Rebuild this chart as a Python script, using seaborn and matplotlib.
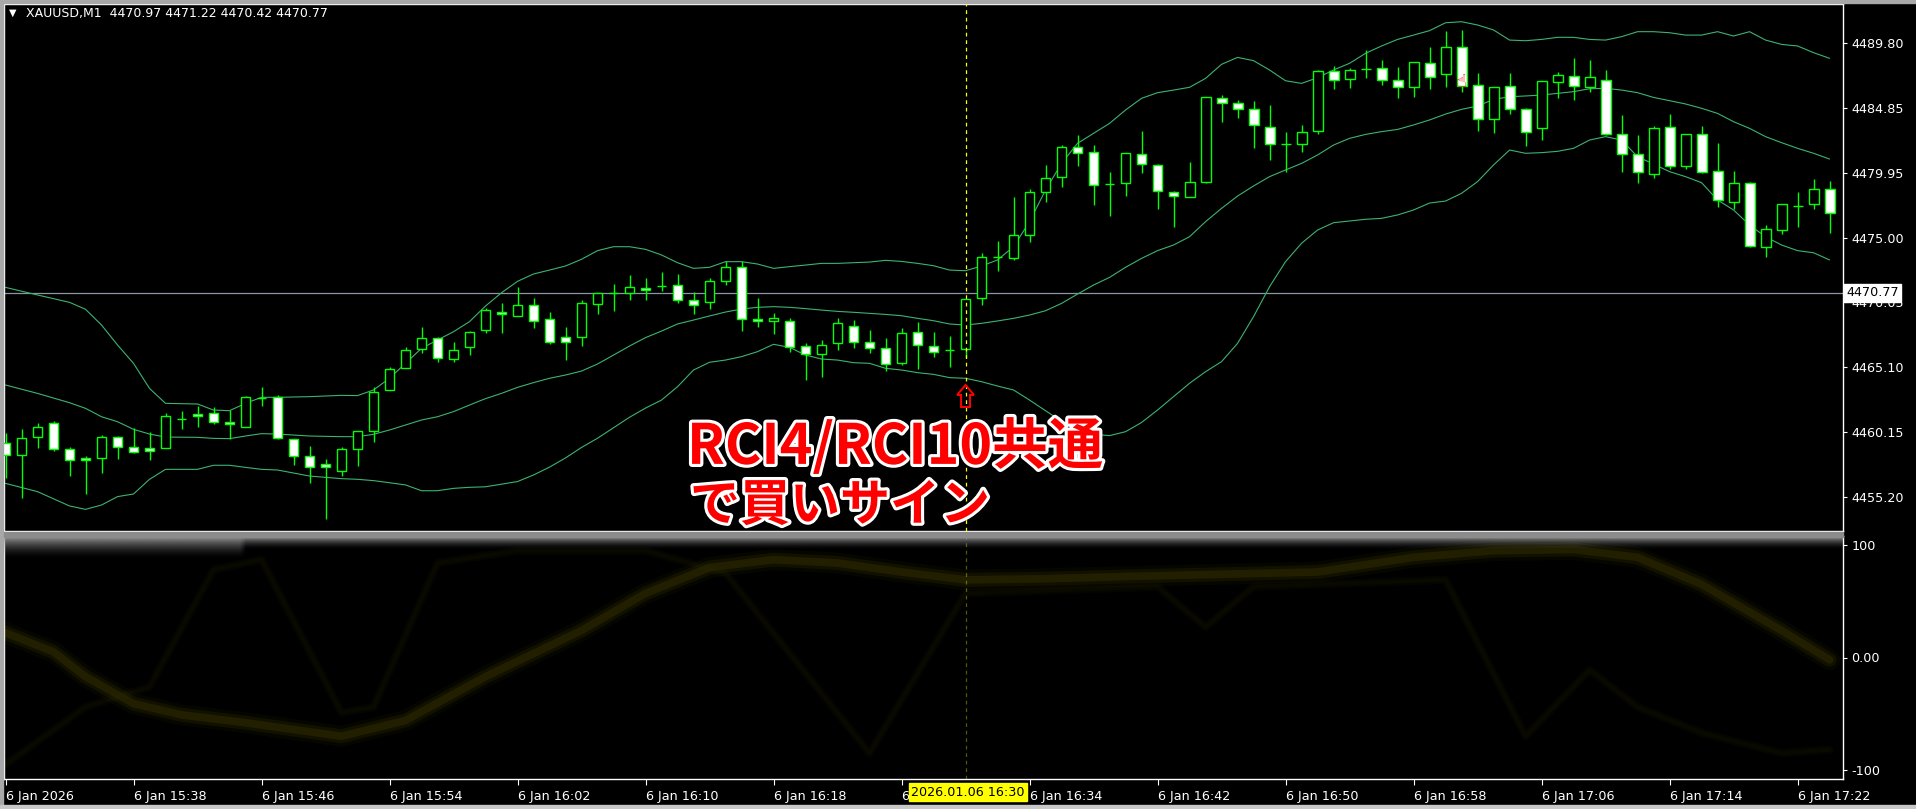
import numpy as np
import pandas as pd
import matplotlib
matplotlib.use("Agg")
import matplotlib.pyplot as plt
import matplotlib.patheffects as pe
from matplotlib.patches import Rectangle, FancyArrow
import seaborn as sns

# ---------------- data ----------------
open_p = [4459.31, 4458.40, 4459.77, 4460.84, 4458.85, 4458.17, 4458.17, 4459.77, 4459.06, 4458.93,
          4458.93, 4461.19, 4461.52, 4461.60, 4460.91, 4460.53, 4462.77, 4462.82, 4459.62, 4458.32,
          4457.71, 4457.18, 4458.85, 4460.23, 4463.35, 4465.03, 4466.48, 4467.32, 4465.71, 4466.68,
          4467.97, 4469.30, 4469.04, 4469.83, 4468.76, 4467.39, 4467.44, 4469.96, 4470.77, 4470.79,
          4471.18, 4471.33, 4471.35, 4470.21, 4470.11, 4471.66, 4472.73, 4468.76, 4468.61, 4468.61,
          4466.70, 4466.15, 4466.98, 4468.23, 4467.06, 4466.55, 4465.46, 4467.77, 4466.76, 4466.45,
          4466.48, 4470.36, 4473.49, 4473.46, 4475.17, 4478.49, 4479.64, 4481.87, 4481.49, 4479.10,
          4479.18, 4481.34, 4480.50, 4478.44, 4478.11, 4479.26, 4485.66, 4485.23, 4484.77, 4483.40,
          4482.13, 4482.10, 4483.09, 4487.67, 4487.06, 4487.84, 4487.89, 4486.98, 4486.45, 4488.28,
          4487.44, 4489.49, 4486.60, 4484.01, 4486.52, 4484.77, 4483.32, 4486.83, 4487.28, 4486.45,
          4486.98, 4482.86, 4481.34, 4479.81, 4483.40, 4480.42, 4482.86, 4480.04, 4477.68, 4479.13,
          4474.25, 4475.55, 4477.40, 4477.53, 4478.67]
high_p = [4460.12, 4460.40, 4460.84, 4460.99, 4459.01, 4458.35, 4459.92, 4459.87, 4460.46, 4460.18,
          4461.62, 4461.78, 4462.18, 4462.08, 4461.83, 4462.95, 4463.63, 4463.02, 4459.64, 4459.11,
          4458.12, 4459.01, 4460.25, 4463.58, 4465.16, 4466.65, 4468.18, 4467.39, 4467.04, 4467.90,
          4469.60, 4470.01, 4471.20, 4470.39, 4469.32, 4468.18, 4470.24, 4470.74, 4471.46, 4472.14,
          4471.89, 4472.37, 4472.22, 4470.85, 4471.91, 4473.18, 4473.18, 4470.39, 4469.25, 4468.86,
          4466.96, 4467.19, 4468.86, 4468.71, 4467.95, 4467.34, 4468.10, 4468.56, 4467.77, 4467.49,
          4470.29, 4473.84, 4474.73, 4478.09, 4478.72, 4480.53, 4482.03, 4482.79, 4482.03, 4479.97,
          4481.42, 4483.12, 4480.58, 4478.54, 4480.73, 4485.68, 4485.84, 4485.46, 4485.40, 4485.10,
          4483.02, 4483.55, 4487.77, 4488.07, 4487.89, 4489.27, 4488.50, 4488.00, 4488.35, 4489.52,
          4490.74, 4490.82, 4487.54, 4486.45, 4487.54, 4484.85, 4486.90, 4487.61, 4488.66, 4488.50,
          4487.74, 4484.31, 4482.79, 4483.47, 4484.39, 4482.86, 4483.47, 4482.18, 4480.04, 4479.21,
          4475.93, 4477.53, 4478.44, 4479.43, 4479.28]
low_p = [4456.64, 4455.12, 4458.93, 4458.75, 4456.85, 4455.42, 4457.03, 4458.09, 4458.55, 4458.07,
         4458.93, 4460.38, 4460.58, 4460.76, 4459.62, 4460.53, 4462.18, 4459.64, 4457.69, 4456.31,
         4453.52, 4456.82, 4457.61, 4459.44, 4463.35, 4465.03, 4466.22, 4465.49, 4465.49, 4466.04,
         4467.75, 4467.75, 4469.04, 4468.13, 4466.91, 4465.69, 4466.76, 4469.19, 4469.42, 4470.24,
         4470.24, 4470.95, 4470.03, 4469.19, 4469.55, 4471.38, 4467.90, 4468.18, 4467.64, 4466.30,
         4464.14, 4464.37, 4466.43, 4466.58, 4466.20, 4464.85, 4465.31, 4464.98, 4465.92, 4465.16,
         4465.79, 4469.86, 4472.47, 4473.29, 4474.68, 4477.71, 4478.88, 4480.48, 4477.50, 4476.66,
         4478.19, 4479.92, 4477.20, 4475.83, 4478.11, 4479.18, 4483.83, 4484.13, 4481.85, 4480.93,
         4480.02, 4481.54, 4482.86, 4486.34, 4486.42, 4487.18, 4486.65, 4485.66, 4485.73, 4486.34,
         4486.50, 4486.06, 4483.14, 4482.99, 4484.44, 4482.00, 4482.46, 4485.61, 4485.46, 4486.06,
         4482.79, 4480.02, 4479.13, 4479.51, 4480.20, 4480.20, 4479.89, 4477.30, 4477.15, 4474.25,
         4473.49, 4475.24, 4475.83, 4477.15, 4475.32]
close_p = [4458.40, 4459.69, 4460.58, 4458.85, 4458.04, 4458.02, 4459.77, 4459.01, 4458.63, 4458.73,
           4461.37, 4461.17, 4461.37, 4460.91, 4460.76, 4462.82, 4462.79, 4459.69, 4458.32, 4457.53,
           4457.48, 4458.85, 4460.23, 4463.20, 4464.95, 4466.40, 4467.32, 4465.79, 4466.40, 4467.77,
           4469.45, 4469.14, 4469.83, 4468.66, 4467.06, 4467.06, 4469.98, 4470.74, 4470.79, 4471.20,
           4470.97, 4471.30, 4470.21, 4469.83, 4471.66, 4472.73, 4468.76, 4468.61, 4468.84, 4466.68,
           4466.15, 4466.78, 4468.46, 4467.06, 4466.60, 4465.38, 4467.70, 4466.83, 4466.25, 4466.43,
           4470.29, 4473.49, 4473.51, 4475.17, 4478.44, 4479.51, 4481.87, 4481.42, 4478.98, 4479.08,
           4481.42, 4480.58, 4478.52, 4478.14, 4479.21, 4485.68, 4485.23, 4484.77, 4483.55, 4482.10,
           4482.10, 4483.02, 4487.67, 4486.98, 4487.74, 4487.82, 4486.98, 4486.45, 4488.35, 4487.21,
           4489.49, 4486.55, 4484.01, 4486.45, 4484.77, 4483.02, 4486.90, 4487.36, 4486.52, 4487.21,
           4482.86, 4481.34, 4479.97, 4483.32, 4480.42, 4482.86, 4479.97, 4477.83, 4479.13, 4474.33,
           4475.62, 4477.53, 4477.43, 4478.67, 4476.84]

band_idx = [0, 2, 4, 5, 6, 7, 8, 9, 10, 12, 13, 14, 15, 16, 17, 19, 21, 22, 23, 24, 25, 26, 27, 28, 29] + list(range(30, 115))
upper_band = [4471.20, 4470.62, 4470.06, 4469.53, 4468.33, 4466.81, 4465.41, 4463.50, 4462.36, 4462.31,
              4461.85, 4461.80, 4462.36, 4462.82, 4462.82, 4462.87, 4462.97, 4462.95, 4463.38, 4464.27,
              4465.41, 4466.55, 4467.19, 4467.82, 4468.59,
              4469.78, 4470.79, 4471.66, 4472.22, 4472.52, 4472.83, 4473.34, 4474.00, 4474.30, 4474.30,
              4474.10, 4473.67, 4473.08, 4472.65, 4472.73, 4473.16, 4473.16, 4472.98, 4472.65, 4472.78,
              4472.90, 4473.03, 4473.03, 4473.08, 4473.13, 4473.26, 4473.18, 4473.03,
              4472.85, 4472.52, 4472.47, 4472.83, 4473.29, 4474.30, 4476.21, 4478.62, 4480.65, 4482.18,
              4482.94, 4483.70, 4484.72, 4485.61, 4486.04, 4486.24, 4486.45, 4487.13, 4488.20, 4488.73,
              4488.48, 4487.77, 4486.95, 4486.75, 4487.18, 4487.77, 4488.28, 4489.04, 4489.60,
              4490.10, 4490.43, 4490.77, 4491.37, 4491.45, 4491.20, 4490.82, 4490.05, 4490.00, 4490.10,
              4490.26, 4490.26, 4490.10, 4490.05, 4490.31, 4490.69, 4490.69, 4490.61, 4490.43, 4490.43,
              4490.69, 4490.36, 4490.69, 4490.05, 4489.72, 4489.60, 4489.09, 4488.66]
middle_band = [4463.76, 4463.12, 4462.41, 4461.98, 4461.34, 4460.96, 4460.38, 4460.02, 4459.79, 4459.77,
               4459.69, 4459.67, 4459.87, 4460.05, 4460.02, 4459.87, 4459.82, 4459.82, 4460.00, 4460.33,
               4460.71, 4461.09, 4461.34, 4461.73, 4462.23,
               4462.72, 4463.12, 4463.58, 4463.94, 4464.27, 4464.52, 4464.82, 4465.36, 4466.04, 4466.73,
               4467.37, 4467.87, 4468.41, 4468.71, 4469.02, 4469.32, 4469.55, 4469.68, 4469.73, 4469.68,
               4469.58, 4469.47, 4469.37, 4469.30, 4469.22, 4469.14, 4469.04, 4468.84,
               4468.66, 4468.41, 4468.33, 4468.46, 4468.64, 4468.84, 4469.09, 4469.42, 4469.98, 4470.69,
               4471.38, 4471.96, 4472.73, 4473.41, 4474.00, 4474.43, 4475.06, 4476.21, 4477.22, 4478.16,
               4478.93, 4479.64, 4480.15, 4480.65, 4481.29, 4482.05, 4482.56, 4482.86, 4483.07,
               4483.24, 4483.58, 4483.96, 4484.41, 4484.77, 4485.02, 4485.53, 4485.73, 4485.79, 4485.86,
               4485.99, 4486.12, 4486.34, 4486.37, 4486.24, 4486.04, 4485.68, 4485.43, 4485.18, 4484.85,
               4484.46, 4483.83, 4483.32, 4482.69, 4482.23, 4481.80, 4481.42, 4480.98]
lower_band = [4456.26, 4455.63, 4454.54, 4454.28, 4454.61, 4455.25, 4455.45, 4456.57, 4457.33, 4457.33,
              4457.64, 4457.64, 4457.48, 4457.33, 4457.28, 4456.82, 4456.62, 4456.57, 4456.47, 4456.31,
              4456.14, 4455.70, 4455.70, 4455.88, 4455.96,
              4456.00, 4456.20, 4456.40, 4456.90, 4457.50, 4458.20, 4459.00, 4459.70, 4460.50, 4461.30,
              4462.00, 4462.61, 4463.63, 4464.90, 4465.49, 4465.66, 4465.92, 4466.30, 4466.86, 4466.63,
              4466.04, 4465.74, 4465.66, 4465.46, 4465.41, 4465.03, 4464.90, 4464.70,
              4464.57, 4464.32, 4464.27, 4464.01, 4463.68, 4463.38, 4462.61, 4461.80, 4461.00, 4460.40,
              4460.00, 4459.90, 4460.20, 4460.90, 4461.85, 4462.87, 4463.89, 4464.77, 4465.54, 4466.93,
              4468.97, 4471.25, 4473.16, 4474.56, 4475.57, 4476.13, 4476.26, 4476.39, 4476.46,
              4476.72, 4477.10, 4477.63, 4477.78, 4478.37, 4479.26, 4480.53, 4481.67, 4481.42, 4481.47,
              4481.57, 4481.80, 4482.43, 4482.69, 4482.43, 4481.16, 4480.60, 4480.02, 4479.64, 4479.18,
              4477.86, 4477.10, 4475.95, 4475.06, 4474.43, 4474.00, 4473.84, 4473.29]

rci_long_idx = [0, 3, 5, 8, 11, 15, 18, 21, 25, 30, 36, 40, 44, 48, 52, 56, 60, 65, 70, 76, 82, 88, 93, 98, 102, 106, 111, 114]
rci_long = [22, 5, -17, -41, -51, -58, -64, -70, -56, -17, 24, 57, 80, 87, 84, 76, 69, 70, 72, 74, 76, 89, 95, 96, 89, 65, 24, -2]
rci_short_idx = [0, 5, 9, 13, 16, 21, 23, 27, 32, 40, 45, 54, 60, 72, 75, 78, 90, 95, 99, 102, 106, 111, 114]
rci_short = [-95, -44, -26, 78, 87, -49, -44, 84, 95, 95, 75, -85, 57, 63, 27, 63, 69, -70, -11, -44, -67, -85, -82]

time_tick_idx = [0, 8, 16, 24, 32, 40, 48, 56, 64, 72, 80, 88, 96, 104, 112]
time_labels = ["6 Jan 2026", "6 Jan 15:38", "6 Jan 15:46", "6 Jan 15:54", "6 Jan 16:02", "6 Jan 16:10",
               "6 Jan 16:18", "6", "6 Jan 16:34", "6 Jan 16:42", "6 Jan 16:50", "6 Jan 16:58",
               "6 Jan 17:06", "6 Jan 17:14", "6 Jan 17:22"]
price_ticks = [4489.80, 4484.85, 4479.95, 4475.00, 4470.05, 4465.10, 4460.15, 4455.20]
rci_ticks = [100, 0, -100]
rci_tick_labels = ["100", "0.00", "-100"]
bid_price = 4470.77
signal_idx = 60
signal_time = "2026.01.06 16:30"
header = "XAUUSD,M1  4470.97 4471.22 4470.42 4470.77"

# ---------------- style ----------------
sns.set_theme(style="dark", rc={"axes.facecolor": "black", "figure.facecolor": "black",
                                "axes.edgecolor": "white", "text.color": "white",
                                "xtick.color": "white", "ytick.color": "white"})
plt.rcParams["font.family"] = ["DejaVu Sans", "Noto Sans CJK JP"]

W, H = 1916, 809
fig = plt.figure(figsize=(W / 100, H / 100), dpi=100)


def rect(x0, y0, x1, y1):
    return [x0 / W, 1 - y1 / H, (x1 - x0) / W, (y1 - y0) / H]


ax = fig.add_axes(rect(4, 4, 1843, 531))
ax2 = fig.add_axes(rect(4, 536, 1843, 779))

df = pd.DataFrame({"i": np.arange(len(open_p)), "o": open_p, "h": high_p, "l": low_p, "c": close_p})
bands = pd.DataFrame({"i": band_idx, "upper": upper_band, "middle": middle_band, "lower": lower_band})

LIME = "#00ff00"
BAND = "#3cb371"

# bands
for col in ["upper", "middle", "lower"]:
    sns.lineplot(data=bands, x="i", y=col, ax=ax, color=BAND, lw=0.8, legend=False, zorder=2)

# bid line
ax.axhline(bid_price, color="#8a96a3", lw=0.9, zorder=1)

# candles
ax.vlines(df["i"], df["l"], df["h"], color=LIME, lw=1.0, zorder=3)
body_bottom = np.minimum(df["o"], df["c"])
body_h = np.maximum(np.abs(df["c"] - df["o"]), 0.02)
fills = np.where(df["c"] < df["o"], "white", "black")
ax.bar(df["i"], body_h, bottom=body_bottom, width=0.62, color=fills, edgecolor=LIME,
       linewidth=1.0, zorder=4)

# crosshair
ax.axvline(signal_idx, color="#ffff00", ls=(0, (3, 3)), lw=0.9, zorder=5)
ax2.axvline(signal_idx, color="#ffff00", ls=(0, (3, 3)), lw=0.9, zorder=5, alpha=0.35)

# signal arrow + hand mark
ax.add_patch(FancyArrow(signal_idx, 4462.08, 0, 1.68, width=0.56, head_width=1.06, head_length=0.76,
                        length_includes_head=True, fill=False, ec="red", lw=1.4, zorder=6))
ax.text(91.0, 4486.85, "\u261d", color="red", fontsize=13, ha="center", va="center",
        family="DejaVu Sans", zorder=6)

ax.set_xlim(-0.094, 114.84)
ax.set_ylim(4452.63, 4492.80)
ax.yaxis.tick_right()
ax.set_yticks(price_ticks)
ax.set_yticklabels([f"{p:.2f}" for p in price_ticks])
ax.tick_params(axis="y", right=True, length=3, width=0.8, pad=3, labelsize=9.2, colors="white")
ax.set_xticks([])
ax.set_xlabel("")
ax.set_ylabel("")
for s in ax.spines.values():
    s.set_color("white")
    s.set_linewidth(1.0)

# ---------------- lower panel (blurred RCI) ----------------
rl = pd.DataFrame({"i": rci_long_idx, "v": rci_long})
rs = pd.DataFrame({"i": rci_short_idx, "v": rci_short})
for lw, a in [(6, 0.2), (3, 0.3)]:
    sns.lineplot(data=rs, x="i", y="v", ax=ax2, color="#161600", lw=lw, alpha=a, legend=False)
for lw, a in [(15, 0.15), (10, 0.3), (5.5, 0.55)]:
    sns.lineplot(data=rl, x="i", y="v", ax=ax2, color="#2e2c00", lw=lw, alpha=a, legend=False)

# blurred separator gradient at top of the sub-window
rows, cols = 40, 300
grad = np.zeros((rows, cols, 4))
grad[..., :3] = 0.6
r = np.linspace(0, 1, rows)[:, None]
c = np.linspace(0, 1, cols)[None, :]
fade = np.where(c < 0.13, 0.6, 0.35)
grad[..., 3] = np.clip(1 - r / fade, 0, 1) ** 1.8
ax2.imshow(grad, extent=[0, 1, 0.84, 1], transform=ax2.transAxes, aspect="auto", zorder=7,
           interpolation="bilinear")

ax2.set_xlim(-0.094, 114.84)
ax2.set_ylim(-108.0, 108.0)
ax2.yaxis.tick_right()
ax2.set_yticks(rci_ticks)
ax2.set_yticklabels(rci_tick_labels)
ax2.tick_params(axis="y", right=True, length=3, width=0.8, pad=3, labelsize=9.2, colors="white")
ax2.set_xticks(time_tick_idx)
ax2.set_xticklabels(time_labels, ha="left")
ax2.tick_params(axis="x", bottom=True, length=4, width=0.8, pad=4, labelsize=9.2, colors="white")
ax2.set_xlabel("")
ax2.set_ylabel("")
for s in ax2.spines.values():
    s.set_color("white")
    s.set_linewidth(1.0)

# ---------------- overlays ----------------
fig.patches.append(Rectangle((0, 1 - 3 / H), 1, 3 / H, transform=fig.transFigure, color="#a8a8a8"))
fig.patches.append(Rectangle((0, 0), 3 / W, 1, transform=fig.transFigure, color="#a8a8a8"))
fig.patches.append(Rectangle((0, 0), 1, 4 / H, transform=fig.transFigure, color="#c8c8c8"))
fig.patches.append(Rectangle((4 / W, 1 - 537 / H), 1839 / W, 5 / H, transform=fig.transFigure,
                             color="#8c8c8c"))

fig.text(9 / W, 1 - 13 / H, "\u25bc", color="white", fontsize=7, va="center", ha="left")
fig.text(26 / W, 1 - 14 / H, header, color="white", fontsize=9, va="center", ha="left")

fig.text(1846 / W, 1 - 293 / H, f"{bid_price:.2f}", color="black", fontsize=9.2, va="center", ha="left",
         bbox=dict(boxstyle="square,pad=0.18", fc="white", ec="white"), zorder=10)
fig.text(968 / W, 1 - 792 / H, signal_time, color="black", fontsize=9.2, va="center", ha="center",
         bbox=dict(boxstyle="square,pad=0.2", fc="#ffff00", ec="#ffff00"), zorder=10)

stroke = [pe.withStroke(linewidth=4.5, foreground="white")]
fig.text(687 / W, 1 - 447 / H, "RCI4/RCI10共通", color="#ff0000", fontsize=40, fontweight="bold",
         family=["Noto Sans CJK JP", "DejaVu Sans"], va="center", ha="left", path_effects=stroke, zorder=12)
fig.text(690 / W, 1 - 506 / H, "で買いサイン", color="#ff0000", fontsize=36, fontweight="bold",
         family=["Noto Sans CJK JP", "DejaVu Sans"], va="center", ha="left", path_effects=stroke, zorder=12)

fig.savefig("out.png", dpi=100, facecolor="black")
